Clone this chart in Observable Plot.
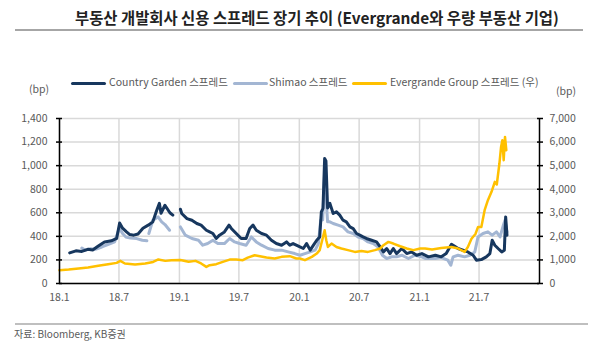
<!DOCTYPE html>
<html><head><meta charset="utf-8">
<script src="https://cdn.jsdelivr.net/npm/d3@7"></script>
<script src="https://cdn.jsdelivr.net/npm/@observablehq/plot@0.6"></script>
<style>
body{margin:0;background:#fff;font-family:"Noto Sans CJK KR","Noto Sans",sans-serif;}
#wrap{position:relative;width:600px;height:352px;overflow:hidden;background:#fff;}
.t{position:absolute;white-space:nowrap;line-height:1;}
.sw{position:absolute;height:3px;}
#chart{position:absolute;left:0;top:100px;}
</style></head><body>
<div id="wrap">
  <div class="t" style="left:75px;top:10px;font-size:15.4px;font-weight:bold;color:#222;">부동산 개발회사 신용 스프레드 장기 추이 (Evergrande와 우량 부동산 기업)</div>
  <div style="position:absolute;left:15px;top:29px;width:568px;height:1.5px;background:#a6a6a6;"></div>
  <div id="legend"></div>
  <div class="t" style="left:29px;top:84px;font-size:10.5px;color:#595959;">(bp)</div>
  <div class="t" style="left:556px;top:86px;font-size:10.5px;color:#595959;">(bp)</div>
  <div id="chart"></div>
  <div style="position:absolute;left:15px;top:323px;width:573px;height:1.5px;background:#bfbfbf;"></div>
  <div class="t" style="left:14px;top:329px;font-size:10px;color:#595959;">자료: Bloomberg, KB증권</div>
</div>
<script>
// ---- data ----
const seriesNames = ["Country Garden 스프레드", "Shimao 스프레드", "Evergrande Group 스프레드 (우)"];
const seriesColors = ["#17375e", "#a3b6d3", "#ffc000"];

const cgDates = ["2018-02-01","2018-02-20","2018-03-10","2018-03-28","2018-04-12","2018-04-28","2018-05-18","2018-06-08","2018-06-24","2018-07-03","2018-07-12","2018-07-24","2018-08-03","2018-08-15","2018-08-28","2018-09-12","2018-09-28","2018-10-12","2018-10-24","2018-11-01","2018-11-06","2018-11-18","2018-12-03","2018-12-12","2018-12-20",
"2019-01-04","2019-01-08","2019-01-24","2019-02-08","2019-02-23","2019-03-08","2019-03-24","2019-04-03","2019-04-13","2019-04-23","2019-05-03","2019-05-18","2019-06-01","2019-06-08","2019-06-23","2019-07-08","2019-07-23","2019-08-03","2019-08-13","2019-08-23","2019-09-08","2019-09-23","2019-10-08","2019-10-23","2019-11-08","2019-11-23","2019-12-03","2019-12-13",
"2020-01-03","2020-01-13","2020-01-23","2020-02-03","2020-02-13","2020-02-23","2020-03-03","2020-03-08","2020-03-13","2020-03-18","2020-03-22","2020-03-27","2020-04-03","2020-04-13","2020-04-23","2020-05-03","2020-05-13","2020-05-23","2020-06-03","2020-06-13","2020-06-23","2020-07-03","2020-07-13","2020-07-23","2020-08-08","2020-08-23","2020-09-03","2020-09-13","2020-09-23","2020-10-03","2020-10-13","2020-10-23","2020-11-08","2020-11-23","2020-12-08","2020-12-23",
"2021-01-08","2021-01-28","2021-02-18","2021-03-08","2021-03-23","2021-04-08","2021-04-18","2021-04-28","2021-05-13","2021-05-28","2021-06-13","2021-06-23","2021-07-08","2021-07-23","2021-08-03","2021-08-10","2021-08-18","2021-08-28","2021-09-08","2021-09-16","2021-09-20","2021-09-24"];
const cgValues = [260,277,272,290,285,316,353,362,382,514,469,438,415,410,420,469,495,523,622,680,596,664,600,580,null,
630,594,551,537,509,495,452,438,424,382,410,438,495,467,424,382,382,467,495,452,424,410,367,339,325,353,325,339,
310,297,339,283,325,367,395,608,637,1060,1040,640,680,594,608,580,537,523,480,466,424,410,395,382,367,353,310,268,297,254,297,254,297,254,268,240,
254,226,240,226,254,333,316,297,282,268,240,198,203,226,254,367,325,297,268,282,565,410];

const smDates = ["2018-03-10","2018-03-20","2018-04-05","2018-04-20","2018-05-10","2018-05-30","2018-06-18","2018-07-02","2018-07-12","2018-07-22","2018-08-05","2018-08-24","2018-09-10","2018-09-24","2018-09-27","2018-09-30","2018-10-12","2018-10-28","2018-11-08","2018-11-18","2018-12-02","2018-12-15",
"2019-01-04","2019-01-19","2019-02-08","2019-02-28","2019-03-13","2019-03-28","2019-04-13","2019-04-28","2019-05-18","2019-06-03","2019-06-18","2019-07-03","2019-07-23","2019-08-08","2019-08-23","2019-09-08","2019-09-28","2019-10-18","2019-11-08","2019-11-28","2019-12-18",
"2020-01-03","2020-01-18","2020-02-03","2020-02-18","2020-02-28","2020-03-06","2020-03-12","2020-03-18","2020-03-23","2020-03-27","2020-04-03","2020-04-13","2020-04-28","2020-05-13","2020-05-28","2020-06-13","2020-06-28","2020-07-13","2020-07-28","2020-08-13","2020-08-28","2020-09-10","2020-09-23","2020-10-08","2020-10-23","2020-11-08","2020-11-28","2020-12-18",
"2021-01-08","2021-01-18","2021-02-18","2021-03-08","2021-03-28","2021-04-06","2021-04-13","2021-04-28","2021-05-18","2021-06-03","2021-06-18","2021-06-28","2021-07-13","2021-07-28","2021-08-10","2021-08-23","2021-09-03","2021-09-13","2021-09-18","2021-09-24"];
const smValues = [300,283,295,290,310,333,353,470,424,395,385,381,367,362,null,424,537,565,523,500,452,null,
480,410,382,367,325,339,367,339,339,382,353,339,325,395,353,325,297,283,283,268,254,
240,254,268,283,339,537,540,940,700,523,523,509,495,480,438,424,395,382,353,339,310,240,212,226,226,240,212,240,
226,212,212,220,198,155,226,240,226,240,268,395,424,438,410,438,395,495,537,438];

const egDates = ["2018-01-01","2018-01-29","2018-02-28","2018-03-29","2018-04-29","2018-05-29","2018-06-24","2018-07-05","2018-07-19","2018-08-19","2018-09-19","2018-10-13","2018-10-29","2018-11-19","2018-12-08",
"2019-01-04","2019-01-29","2019-02-19","2019-03-08","2019-03-24","2019-04-03","2019-04-23","2019-05-13","2019-06-03","2019-06-23","2019-07-13","2019-07-28","2019-08-18","2019-09-03","2019-09-23","2019-10-18","2019-11-08","2019-12-03","2019-12-23",
"2020-01-03","2020-01-18","2020-02-08","2020-02-23","2020-03-03","2020-03-13","2020-03-18","2020-03-23","2020-03-28","2020-04-08","2020-04-23","2020-05-08","2020-05-28","2020-06-18","2020-07-08","2020-07-28","2020-08-18","2020-09-03","2020-09-13","2020-09-28","2020-10-13","2020-11-03","2020-11-23","2020-12-13",
"2021-01-03","2021-01-18","2021-02-08","2021-03-08","2021-04-08","2021-04-28","2021-05-18","2021-05-28","2021-06-08","2021-06-20","2021-06-28","2021-07-08","2021-07-18","2021-07-28","2021-08-08","2021-08-18","2021-08-24","2021-09-01","2021-09-06","2021-09-10","2021-09-14","2021-09-18","2021-09-22"];
const egValues = [565,590,636,675,750,820,875,960,850,805,850,915,1020,960,990,
1000,920,960,850,705,775,820,920,1015,1015,990,1100,1200,1160,1100,1060,1130,1160,1060,
1060,990,1130,1270,1415,1975,2260,1835,1550,1695,1550,1485,1415,1340,1375,1340,1415,1485,1625,1765,1695,1580,1485,1415,
1485,1485,1440,1510,1550,1485,1340,1550,1900,2100,2400,2400,3110,3535,3890,4310,4200,5090,5795,6080,5230,6220,5655];

const yTicks = [0,200,400,600,800,1000,1200,1400];
const rightRatio = 5; // right axis = left axis x 5
const xTickDates = ["2018-01-01","2018-07-01","2019-01-01","2019-07-01","2020-01-01","2020-07-01","2021-01-01","2021-07-01"];
const xTickLabels = ["18.1","18.7","19.1","19.7","20.1","20.7","21.1","21.7"];
const xDomain = ["2018-01-01","2022-01-01"];

// ---- build ----
const parse = d3.utcParse("%Y-%m-%d");
const rows = (ds, vs) => ds.map((d, i) => ({date: parse(d), v: vs[i]}));
const cg = rows(cgDates, cgValues);
const sm = rows(smDates, smValues);
const eg = rows(egDates, egValues);
const xt = xTickDates.map(parse);
const labelMap = new Map(xt.map((d, i) => [+d, xTickLabels[i]]));
const fmt = d3.format(",");
const font = '"Noto Sans CJK KR","Noto Sans",sans-serif';

const chart = Plot.plot({
  width: 600, height: 220,
  marginLeft: 59, marginRight: 61, marginTop: 18, marginBottom: 37,
  style: {fontFamily: font, fontSize: "10.5px", color: "#595959", background: "transparent", overflow: "visible"},
  x: {type: "utc", domain: xDomain.map(parse), label: null},
  y: {domain: [0, 1400], label: null},
  marks: [
    Plot.gridY(yTicks, {stroke: "#d9d9d9", strokeOpacity: 1, strokeWidth: 1.5}),
    Plot.gridX(xt, {stroke: "#d9d9d9", strokeOpacity: 1, strokeWidth: 1.5}),
    Plot.line(sm, {x: "date", y: "v", stroke: seriesColors[1], strokeWidth: 3}),
    Plot.line(cg, {x: "date", y: "v", stroke: seriesColors[0], strokeWidth: 3}),
    Plot.line(eg, {x: "date", y: d => d.v / rightRatio, stroke: seriesColors[2], strokeWidth: 2.5}),
    Plot.ruleY([0], {stroke: "#000", strokeWidth: 1.5}),
    Plot.ruleX(xDomain.map(parse), {stroke: "#000", strokeWidth: 1.5}),
    Plot.axisY(yTicks, {anchor: "left", label: null, tickSize: 3, tickPadding: 9, tickFormat: fmt, stroke: "#000", strokeWidth: 1.5}),
    Plot.axisY(yTicks, {anchor: "left", label: null, tickSize: 3, dx: 3, tickFormat: () => "", stroke: "#000", strokeWidth: 1.5}),
    Plot.axisY(yTicks, {anchor: "right", label: null, tickSize: 3, tickPadding: 7, tickFormat: d => fmt(d * rightRatio), stroke: "#000", strokeWidth: 1.5}),
    Plot.axisY(yTicks, {anchor: "right", label: null, tickSize: 3, dx: -3, tickFormat: () => "", stroke: "#000", strokeWidth: 1.5}),
    Plot.axisX(xt, {anchor: "bottom", label: null, tickSize: 0, tickPadding: 10, tickFormat: d => labelMap.get(+d)})
  ]
});
document.getElementById("chart").appendChild(chart);

// legend
const legendPos = [[71, 109], [233, 269], [352, 390]];
const lg = document.getElementById("legend");
seriesNames.forEach((n, i) => {
  const sw = document.createElement("div");
  sw.className = "sw";
  sw.style.cssText = `left:${legendPos[i][0]}px;top:82px;width:35px;background:${seriesColors[i]};border-radius:1.5px;`;
  lg.appendChild(sw);
  const t = document.createElement("div");
  t.className = "t";
  t.style.cssText = `left:${legendPos[i][1]}px;top:77px;font-size:10.5px;color:#595959;`;
  t.textContent = n;
  lg.appendChild(t);
});
</script>
</body></html>
